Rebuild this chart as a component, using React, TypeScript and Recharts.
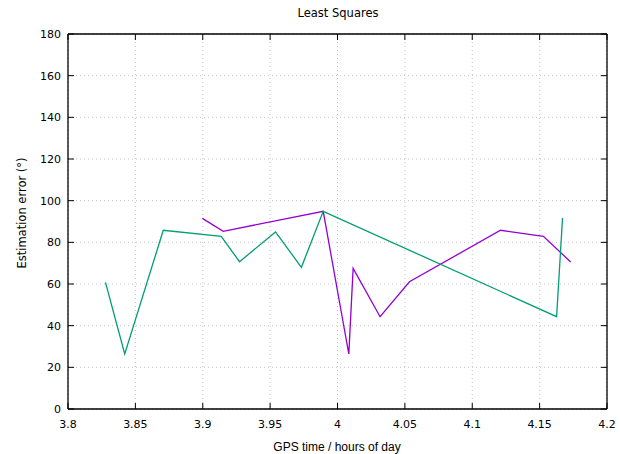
import React from "react";
import { LineChart, Line, XAxis, YAxis, CartesianGrid } from "recharts";

const xTicks = [3.8, 3.85, 3.9, 3.95, 4.0, 4.05, 4.1, 4.15, 4.2];
const yTicks = [0, 20, 40, 60, 80, 100, 120, 140, 160, 180];

const greenX = [3.8278, 3.8421, 3.8707, 3.9137, 3.9273, 3.954, 3.9732, 3.9894, 4.1626, 4.167];
const greenY = [60.8, 26.4, 85.8, 82.9, 70.7, 85.0, 68.0, 94.9, 44.3, 91.7];

const purpleX = [3.8997, 3.9152, 3.9894, 4.0084, 4.0116, 4.0316, 4.0534, 4.121, 4.1528, 4.173];
const purpleY = [91.5, 85.3, 94.9, 26.4, 67.5, 44.3, 61.1, 85.8, 82.9, 70.6];

const greenData = greenX.map((x, i) => ({ x, y: greenY[i] }));
const purpleData = purpleX.map((x, i) => ({ x, y: purpleY[i] }));

const TICK_FONT = "'DejaVu Sans', sans-serif";
const TICK = 6;

const fmtX = (v: number) => String(Math.round(v * 100) / 100);

// mirrored bottom axis: label y = axisY - TICK; draw text below axis
const BottomTick = (props: any) => {
  const { x, y, payload } = props;
  return (
    <text x={x} y={y + TICK + 19} textAnchor="middle" fontFamily={TICK_FONT} fontSize={11} fill="#000">
      {fmtX(payload.value)}
    </text>
  );
};

// mirrored left axis: label x = axisX + TICK; draw text left of axis
const LeftTick = (props: any) => {
  const { x, y, payload } = props;
  return (
    <text x={x - TICK - 7} y={y + 4} textAnchor="end" fontFamily={TICK_FONT} fontSize={11} fill="#000">
      {payload.value}
    </text>
  );
};

const NoTick = () => <g />;

const axisLine = { stroke: "#000", strokeWidth: 1.3 };
const tickLine = { stroke: "#000", strokeWidth: 1 };

export default function App() {
  return (
    <div style={{ position: "absolute", left: 0, top: 0, width: 620, height: 454, background: "#fff" }}>
      <LineChart width={620} height={454} margin={{ top: 34, right: 13, left: 68, bottom: 45 }}>
        <CartesianGrid
          xAxisId="b"
          yAxisId="l"
          stroke="#c4c4c4"
          strokeDasharray="1 3"
          horizontalValues={yTicks}
          verticalValues={xTicks}
        />
        <XAxis
          xAxisId="b"
          type="number"
          dataKey="x"
          domain={[3.8, 4.2]}
          ticks={xTicks}
          allowDataOverflow
          mirror
          tickSize={TICK}
          tickMargin={0}
          tickLine={tickLine}
          axisLine={axisLine}
          tick={<BottomTick />}
          interval={0}
        />
        <XAxis
          xAxisId="t"
          orientation="top"
          type="number"
          dataKey="x"
          domain={[3.8, 4.2]}
          ticks={xTicks}
          allowDataOverflow
          mirror
          tickSize={TICK}
          tickMargin={0}
          tickLine={tickLine}
          axisLine={axisLine}
          tick={<NoTick />}
          interval={0}
        />
        <YAxis
          yAxisId="l"
          type="number"
          domain={[0, 180]}
          ticks={yTicks}
          allowDataOverflow
          mirror
          tickSize={TICK}
          tickMargin={0}
          tickLine={tickLine}
          axisLine={axisLine}
          tick={<LeftTick />}
          interval={0}
        />
        <YAxis
          yAxisId="r"
          orientation="right"
          type="number"
          domain={[0, 180]}
          ticks={yTicks}
          allowDataOverflow
          mirror
          tickSize={TICK}
          tickMargin={0}
          tickLine={tickLine}
          axisLine={axisLine}
          tick={<NoTick />}
          interval={0}
        />
        <Line
          xAxisId="b"
          yAxisId="l"
          data={purpleData}
          dataKey="y"
          type="linear"
          stroke="#9400d3"
          strokeWidth={1.3}
          dot={false}
          isAnimationActive={false}
        />
        <Line
          xAxisId="b"
          yAxisId="l"
          data={greenData}
          dataKey="y"
          type="linear"
          stroke="#009e73"
          strokeWidth={1.3}
          dot={false}
          isAnimationActive={false}
        />
      </LineChart>
      <svg
        width={620}
        height={454}
        style={{ position: "absolute", left: 0, top: 0, pointerEvents: "none" }}
      >
        <text x={338} y={17} textAnchor="middle" fontFamily={TICK_FONT} fontSize={11.5} fill="#000">
          Least Squares
        </text>
        <text
          x={337}
          y={451}
          textAnchor="middle"
          fontFamily="'Liberation Sans', Arial, sans-serif"
          fontSize={12}
          fill="#000"
        >
          GPS time / hours of day
        </text>
        <text
          x={26}
          y={213}
          textAnchor="middle"
          fontFamily={TICK_FONT}
          fontSize={11.5}
          fill="#000"
          transform="rotate(-90 26 213)"
        >
          Estimation error (°)
        </text>
      </svg>
    </div>
  );
}
